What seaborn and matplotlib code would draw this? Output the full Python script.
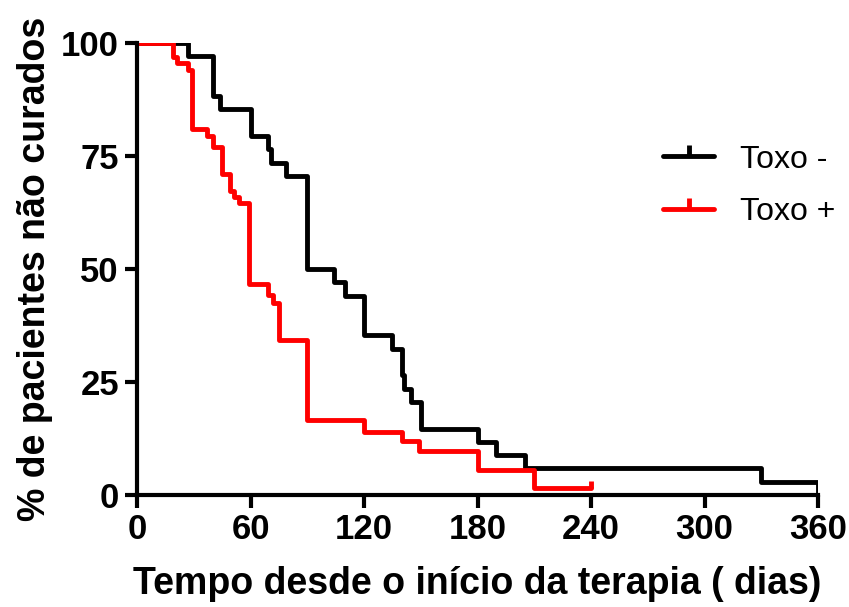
import matplotlib
matplotlib.use("Agg")
import matplotlib.pyplot as plt
import seaborn as sns
import pandas as pd
from matplotlib.lines import Line2D

# Kaplan-Meier style data (dias, % nao curados)
dias_neg = [0, 27, 40, 44, 60, 69, 71, 79, 90, 104, 110, 120, 135, 140, 141, 145, 150, 180, 190, 205, 330, 360]
pct_neg = [100, 97.1, 88.2, 85.3, 79.4, 76.5, 73.5, 70.6, 50.0, 47.1, 44.1, 35.3, 32.4, 26.5, 23.5,
           20.6, 14.7, 11.8, 8.8, 5.9, 2.9, 0]

dias_pos = [0, 19, 21, 27, 29, 37, 40, 45, 49, 51, 54, 59, 69, 72, 75, 90, 120, 140, 149, 180, 210, 240]
pct_pos = [100, 97, 95.5, 94, 81, 79.5, 77, 71.1, 67.2, 65.9, 64.6, 46.6, 44.2, 42.5, 34.4,
           16.6, 14.0, 12.0, 9.8, 5.6, 1.5, 1.5]

grupos = ["Toxo -", "Toxo +"]
cores = ["black", "#ff0000"]
x_ticks = [0, 60, 120, 180, 240, 300, 360]
y_ticks = [0, 25, 50, 75, 100]

sns.set_style("ticks")
plt.rcParams['font.family'] = ['Liberation Sans', 'DejaVu Sans']
plt.rcParams['text.color'] = 'black'
plt.rcParams['axes.labelcolor'] = 'black'
plt.rcParams['xtick.color'] = 'black'
plt.rcParams['ytick.color'] = 'black'

fig, ax = plt.subplots(figsize=(8.49, 6.07), dpi=100)
fig.subplots_adjust(left=0.1614, right=0.9635, top=0.9292, bottom=0.1845)

df_neg = pd.DataFrame({"dias": dias_neg, "pct": pct_neg})
df_pos = pd.DataFrame({"dias": dias_pos, "pct": pct_pos})

sns.lineplot(data=df_neg, x="dias", y="pct", drawstyle="steps-post", color=cores[0],
             linewidth=3.5, estimator=None, ax=ax)
sns.lineplot(data=df_pos, x="dias", y="pct", drawstyle="steps-post", color=cores[1],
             linewidth=3.5, estimator=None, ax=ax)
# censored mark at the end of Toxo +
ax.plot([dias_pos[-1]], [pct_pos[-1]], marker=2, ms=5, mew=3.5, color=cores[1], clip_on=False)

ax.set_xlim(0, 360)
ax.set_ylim(0, 100)
ax.set_xticks(x_ticks)
ax.set_yticks(y_ticks)

for s in ["top", "right"]:
    ax.spines[s].set_visible(False)
for s in ["left", "bottom"]:
    ax.spines[s].set_linewidth(3)
    ax.spines[s].set_color("black")
ax.tick_params(width=3, length=9, labelsize=25, pad=4, color="black", labelcolor="black")
for lab in ax.get_xticklabels() + ax.get_yticklabels():
    lab.set_fontweight("bold")

ax.set_xlabel("Tempo desde o início da terapia ( dias)", fontsize=27, fontweight="bold", labelpad=14)
ax.set_ylabel("% de pacientes não curados", fontsize=27, fontweight="bold", labelpad=6)

handles = [Line2D([0], [0], color=c, lw=3.5, marker=2, ms=8, mew=3.5) for c in cores]
ax.legend(handles, grupos, loc="center left", bbox_to_anchor=(663 / 849, 1 - 186 / 607),
          bbox_transform=fig.transFigure, frameon=False, fontsize=23, borderpad=0,
          borderaxespad=0, handlelength=1.6, handletextpad=0.8, labelspacing=0.72)

fig.savefig("out.png", dpi=100)
